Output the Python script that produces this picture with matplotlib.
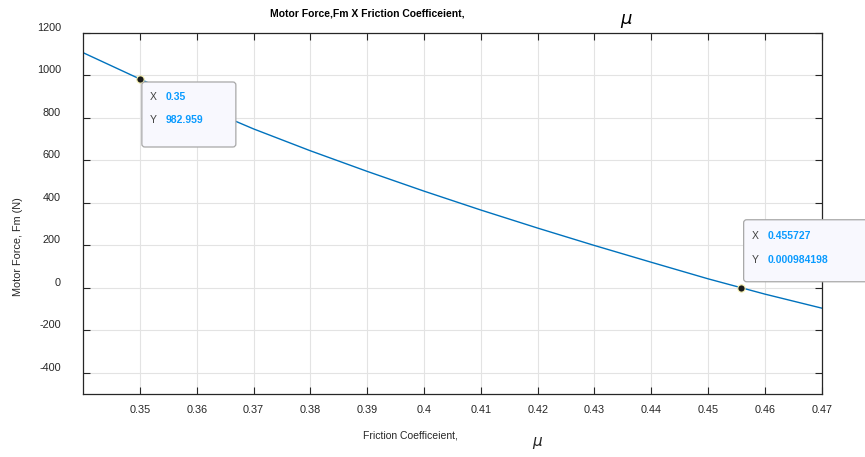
import numpy as np
import matplotlib.pyplot as plt
from matplotlib.patches import FancyBboxPatch
from matplotlib.transforms import IdentityTransform

# friction coefficient vs motor force
mu = [0.34, 0.35, 0.36, 0.37, 0.38, 0.39, 0.40, 0.41, 0.42, 0.43, 0.44, 0.45, 0.46, 0.47]
fm = [1107, 982.959, 862, 748, 645, 548, 455, 366, 281, 199, 120, 42, -30, -96]

# data tips
tip_x = [0.35, 0.455727]
tip_y = [982.959, 0.000984198]
tip_x_txt = ["0.35", "0.455727"]
tip_y_txt = ["982.959", "0.000984198"]

xticks = [0.35, 0.36, 0.37, 0.38, 0.39, 0.40, 0.41, 0.42, 0.43, 0.44, 0.45, 0.46, 0.47]
xtick_labels = ["0.35", "0.36", "0.37", "0.38", "0.39", "0.4", "0.41", "0.42",
                "0.43", "0.44", "0.45", "0.46", "0.47"]
yticks = [-400, -200, 0, 200, 400, 600, 800, 1000, 1200]

plt.rcParams['font.family'] = ['Liberation Sans', 'DejaVu Sans']

fig = plt.figure(figsize=(8.65, 4.57), dpi=100)
ax = fig.add_axes([0.096, 0.138, 0.854, 0.790])

ax.plot(mu, fm, color='#0072BD', lw=1)
ax.set_xlim(0.34, 0.47)
ax.set_ylim(-500, 1200)
ax.set_xticks(xticks)
ax.set_xticklabels(xtick_labels)
ax.set_yticks(yticks)
ax.set_yticklabels([str(v) for v in yticks])
for lab in ax.get_yticklabels():
    lab.set_va('bottom')

ax.grid(True, color='#e3e3e3', lw=0.8)
ax.set_axisbelow(True)
ax.tick_params(direction='in', length=5, width=0.8, color='#262626',
               labelcolor='#262626', labelsize=7.8, top=True, right=True)
ax.tick_params(axis='x', pad=8)
ax.tick_params(axis='y', pad=16)
for s in ax.spines.values():
    s.set_color('#262626')
    s.set_linewidth(0.9)

# titles / labels
fig.text(0.424, 0.97, "Motor Force,Fm X Friction Coefficeient,", ha='center', va='center',
         fontsize=7.5, fontweight='bold')
fig.text(0.724, 0.955, r"$\mu$", ha='center', va='center', fontsize=13)
fig.text(0.475, 0.048, "Friction Coefficeient,", ha='center', va='center',
         fontsize=7.5, color='#262626')
fig.text(0.622, 0.03, r"$\mu$", ha='center', va='center', fontsize=11, color='#262626')
fig.text(0.021, 0.46, "Motor Force, Fm (N)", ha='center', va='center', rotation=90,
         fontsize=7.8, color='#262626')

# data tips
ax.scatter(tip_x, tip_y, s=28, color='#1a1a1a', edgecolors='#f5f0b0', lw=0.8, zorder=5,
           clip_on=False)

fig.canvas.draw()
box_geom = [(2, -68, 94, 65), (3, 6, 130, 62)]
txt_off = [(10, -18, -41), (11, 52, 28)]
for i in range(2):
    px, py = ax.transData.transform((tip_x[i], tip_y[i]))
    dx, dy, w, h = box_geom[i]
    box = FancyBboxPatch((px + dx, py + dy), w, h, boxstyle='round,pad=0,rounding_size=3',
                         transform=IdentityTransform(), facecolor='#f8f8fe',
                         edgecolor='#a8a8a8', lw=0.9, zorder=6, clip_on=False)
    ax.add_patch(box)
    ox, oy1, oy2 = txt_off[i]
    for lab, val, oy in [("X", tip_x_txt[i], oy1), ("Y", tip_y_txt[i], oy2)]:
        ax.annotate(lab, (tip_x[i], tip_y[i]), xytext=(ox, oy), textcoords='offset pixels',
                    va='center', ha='left', fontsize=7.5, color='#404040', zorder=7,
                    annotation_clip=False)
        ax.annotate(val, (tip_x[i], tip_y[i]), xytext=(ox + 16, oy), textcoords='offset pixels',
                    va='center', ha='left', fontsize=7.5, color='#0a9bff', fontweight='bold',
                    zorder=7, annotation_clip=False)

ax.set_xlim(0.34, 0.47)
ax.set_ylim(-500, 1200)
fig.savefig("out.png", dpi=100)
